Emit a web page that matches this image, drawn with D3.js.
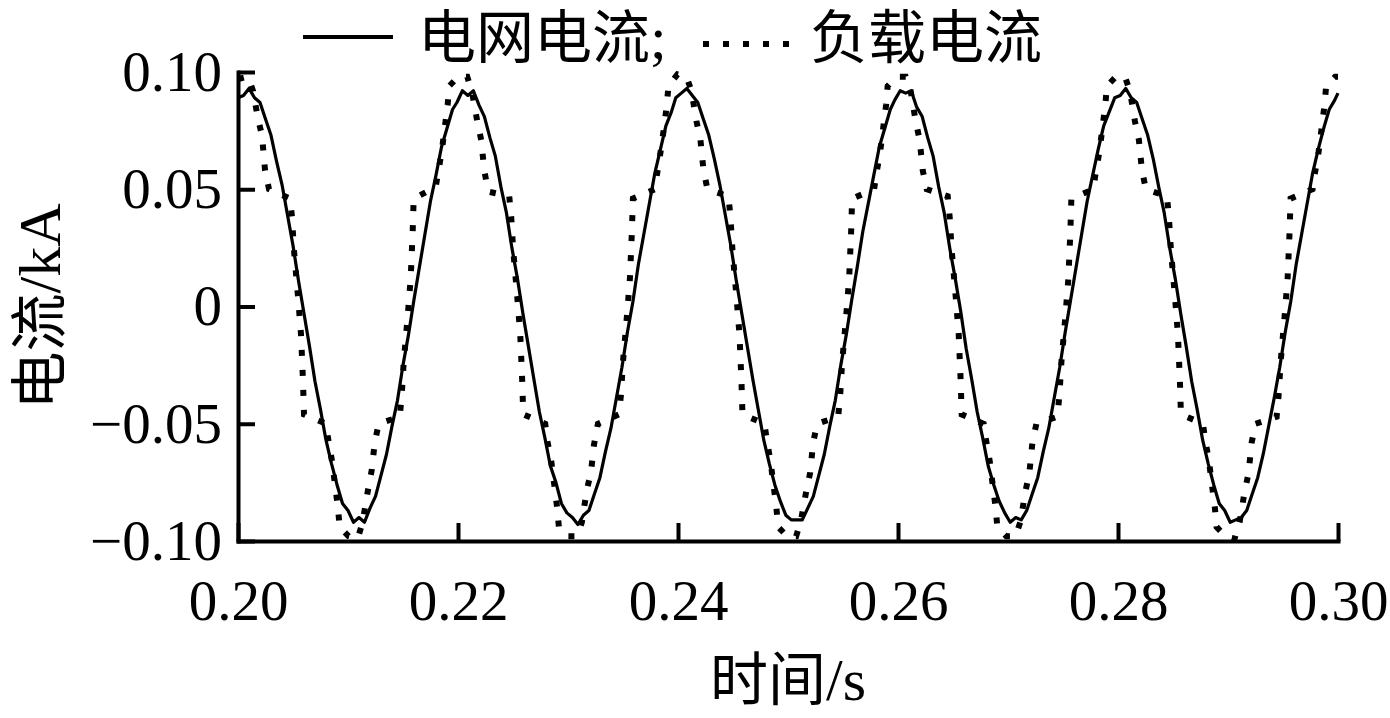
<!DOCTYPE html>
<html>
<head>
<meta charset="utf-8">
<script src="https://cdn.jsdelivr.net/npm/d3@7"></script>
<style>
  body { margin: 0; background: #fff; }
</style>
</head>
<body>
<div class="root"></div>
<script>
const width = 1390;
const height = 718;
const margin = { top: 72, right: 52, bottom: 177, left: 238 };

// tick values and their labels
const xTicks = [0.2, 0.22, 0.24, 0.26, 0.28, 0.3];
const xTickLabels = ["0.20", "0.22", "0.24", "0.26", "0.28", "0.30"];
const yTicks = [-0.1, -0.05, 0, 0.05, 0.1];
const yTickLabels = ["\u22120.10", "\u22120.05", "0", "0.05", "0.10"];

// grid current (solid), every 0.5 ms, one row per cycle
const gridStep = 0.0005;
const gridStart = [0.2, 0.2199, 0.2398, 0.2597, 0.2797];
const gridValues = [
  [0.089, 0.090, 0.093, 0.089, 0.087, 0.080, 0.073, 0.062, 0.052, 0.039, 0.026, 0.011, -0.003, -0.017, -0.032, -0.044, -0.057, -0.067, -0.076, -0.084,
   -0.087, -0.092, -0.090, -0.092, -0.086, -0.081, -0.072, -0.063, -0.051, -0.040, -0.025, -0.012, 0.003, 0.017, 0.031, 0.045, 0.056, 0.068, 0.076, 0.084],
  [0.087, 0.092, 0.090, 0.092, 0.086, 0.081, 0.072, 0.064, 0.051, 0.040, 0.025, 0.012, -0.003, -0.017, -0.031, -0.045, -0.056, -0.068, -0.075, -0.084,
   -0.088, -0.090, -0.093, -0.089, -0.087, -0.080, -0.073, -0.062, -0.052, -0.039, -0.026, -0.011, 0.002, 0.018, 0.031, 0.044, 0.057, 0.067, 0.077, 0.083],
  [0.089, 0.091, 0.093, 0.090, 0.087, 0.080, 0.073, 0.063, 0.052, 0.039, 0.026, 0.011, -0.003, -0.017, -0.031, -0.044, -0.057, -0.067, -0.076, -0.083,
   -0.089, -0.091, -0.091, -0.091, -0.086, -0.081, -0.072, -0.063, -0.051, -0.040, -0.025, -0.012, 0.003, 0.017, 0.032, 0.044, 0.056, 0.068, 0.076, 0.084],
  [0.088, 0.092, 0.091, 0.092, 0.085, 0.081, 0.072, 0.064, 0.051, 0.040, 0.025, 0.012, -0.002, -0.018, -0.031, -0.045, -0.056, -0.068, -0.076, -0.083,
   -0.088, -0.092, -0.090, -0.091, -0.087, -0.080, -0.073, -0.062, -0.052, -0.039, -0.026, -0.011, 0.003, 0.017, 0.031, 0.045, 0.056, 0.067, 0.077, 0.083],
  [0.089, 0.090, 0.093, 0.089, 0.087, 0.080, 0.073, 0.063, 0.051, 0.040, 0.025, 0.012, -0.003, -0.017, -0.032, -0.044, -0.057, -0.067, -0.076, -0.084,
   -0.087, -0.092, -0.091, -0.090, -0.087, -0.080, -0.073, -0.063, -0.051, -0.039, -0.026, -0.011, 0.002, 0.018, 0.031, 0.044, 0.057, 0.067, 0.076, 0.084],
];
const gridTail = [[0.2997, 0.088], [0.3, 0.091]];

// load current (dotted), stepped waveform vertices [time s, current kA]
const loadPoints = [
  [0.2, 0.097], [0.20091, 0.098], [0.20136, 0.092], [0.20182, 0.080], [0.20218, 0.073], [0.20246, 0.058], [0.20282, 0.050], [0.20473, 0.046], [0.20491, 0.038], [0.20509, 0.024], [0.20546, 0.004], [0.20573, -0.012], [0.20591, -0.032], [0.20600, -0.046], [0.20800, -0.050], [0.20818, -0.056], [0.20855, -0.066], [0.20882, -0.076], [0.20909, -0.086],
  [0.20924, -0.094], [0.21006, -0.098], [0.21088, -0.099], [0.21133, -0.092], [0.21179, -0.079], [0.21215, -0.070], [0.21243, -0.058], [0.21279, -0.050], [0.21470, -0.047], [0.21488, -0.038], [0.21506, -0.024], [0.21543, -0.004], [0.21570, 0.012], [0.21588, 0.032], [0.21597, 0.046], [0.21797, 0.051], [0.21815, 0.056], [0.21852, 0.066], [0.21879, 0.076], [0.21906, 0.086],
  [0.21920, 0.094], [0.22002, 0.098], [0.22084, 0.098], [0.22129, 0.091], [0.22175, 0.079], [0.22211, 0.071], [0.22239, 0.058], [0.22275, 0.049], [0.22466, 0.047], [0.22484, 0.038], [0.22502, 0.024], [0.22539, 0.004], [0.22566, -0.012], [0.22584, -0.032], [0.22593, -0.046], [0.22793, -0.050], [0.22811, -0.057], [0.22848, -0.066], [0.22875, -0.076], [0.22902, -0.086],
  [0.22917, -0.094], [0.22999, -0.098], [0.23081, -0.098], [0.23126, -0.092], [0.23172, -0.078], [0.23208, -0.071], [0.23236, -0.059], [0.23272, -0.050], [0.23463, -0.046], [0.23481, -0.038], [0.23499, -0.024], [0.23536, -0.004], [0.23563, 0.012], [0.23581, 0.032], [0.23590, 0.046], [0.23790, 0.050], [0.23808, 0.056], [0.23845, 0.067], [0.23872, 0.076], [0.23899, 0.086],
  [0.23913, 0.094], [0.23995, 0.099], [0.24077, 0.098], [0.24122, 0.092], [0.24168, 0.079], [0.24204, 0.071], [0.24232, 0.058], [0.24268, 0.050], [0.24459, 0.047], [0.24477, 0.038], [0.24495, 0.024], [0.24532, 0.004], [0.24559, -0.012], [0.24577, -0.032], [0.24586, -0.046], [0.24786, -0.050], [0.24804, -0.056], [0.24841, -0.066], [0.24868, -0.076], [0.24895, -0.086],
  [0.24910, -0.094], [0.24992, -0.098], [0.25074, -0.098], [0.25119, -0.091], [0.25165, -0.079], [0.25201, -0.071], [0.25229, -0.058], [0.25265, -0.050], [0.25456, -0.047], [0.25474, -0.038], [0.25492, -0.024], [0.25529, -0.004], [0.25556, 0.012], [0.25574, 0.032], [0.25583, 0.046], [0.25783, 0.050], [0.25801, 0.056], [0.25838, 0.066], [0.25865, 0.076], [0.25892, 0.086],
  [0.25906, 0.094], [0.25988, 0.098], [0.26070, 0.098], [0.26115, 0.092], [0.26161, 0.079], [0.26197, 0.071], [0.26225, 0.058], [0.26261, 0.050], [0.26452, 0.047], [0.26470, 0.038], [0.26488, 0.024], [0.26525, 0.004], [0.26552, -0.012], [0.26570, -0.032], [0.26579, -0.046], [0.26779, -0.050], [0.26797, -0.056], [0.26834, -0.066], [0.26861, -0.076], [0.26888, -0.086],
  [0.26903, -0.094], [0.26985, -0.098], [0.27067, -0.098], [0.27112, -0.092], [0.27158, -0.079], [0.27194, -0.071], [0.27222, -0.058], [0.27258, -0.050], [0.27449, -0.047], [0.27467, -0.038], [0.27485, -0.024], [0.27522, -0.004], [0.27549, 0.012], [0.27567, 0.032], [0.27576, 0.046], [0.27776, 0.050], [0.27794, 0.056], [0.27831, 0.066], [0.27858, 0.076], [0.27885, 0.086],
  [0.27899, 0.094], [0.27981, 0.098], [0.28063, 0.098], [0.28108, 0.092], [0.28154, 0.079], [0.28190, 0.071], [0.28218, 0.058], [0.28254, 0.050], [0.28445, 0.047], [0.28463, 0.038], [0.28481, 0.024], [0.28518, 0.004], [0.28545, -0.012], [0.28563, -0.032], [0.28572, -0.046], [0.28772, -0.050], [0.28790, -0.056], [0.28827, -0.066], [0.28854, -0.076], [0.28881, -0.086],
  [0.28896, -0.094], [0.28978, -0.098], [0.29060, -0.099], [0.29105, -0.092], [0.29151, -0.079], [0.29187, -0.071], [0.29215, -0.058], [0.29251, -0.050], [0.29442, -0.047], [0.29460, -0.038], [0.29478, -0.024], [0.29515, -0.004], [0.29542, 0.012], [0.29560, 0.032], [0.29569, 0.046], [0.29769, 0.050], [0.29787, 0.056], [0.29824, 0.066], [0.29851, 0.076], [0.29878, 0.086],
  [0.29892, 0.094], [0.29974, 0.098], [0.3, 0.098],
];

const serif = "'Liberation Serif', 'Times New Roman', serif";
const cjk = "'Noto Sans CJK SC', sans-serif";

const svg = d3
  .select(".root")
  .append("svg")
  .attr("width", width)
  .attr("height", height)
  .style("display", "block");

const x = d3.scaleLinear().domain([0.2, 0.3]).range([margin.left, width - margin.right]);
const y = d3.scaleLinear().domain([-0.1, 0.1]).range([height - margin.bottom, margin.top]);

// build grid current points from the per-cycle rows
const gridPoints = [];
gridValues.forEach((row, c) => {
  row.forEach((v, k) => gridPoints.push([gridStart[c] + k * gridStep, v]));
});
gridTail.forEach((p) => gridPoints.push(p));

const line = d3
  .line()
  .x((d) => x(d[0]))
  .y((d) => y(d[1]));

svg
  .append("path")
  .datum(loadPoints)
  .attr("d", line)
  .attr("fill", "none")
  .attr("stroke", "#000")
  .attr("stroke-width", 6)
  .attr("stroke-dasharray", "6 14");

svg
  .append("path")
  .datum(gridPoints)
  .attr("d", line)
  .attr("fill", "none")
  .attr("stroke", "#000")
  .attr("stroke-width", 3.2)
  .attr("stroke-linejoin", "round");

// axes, ticks pointing inward
const xAxis = d3
  .axisBottom(x)
  .tickValues(xTicks)
  .tickFormat((d, i) => xTickLabels[i])
  .tickSizeInner(-18)
  .tickSizeOuter(0)
  .tickPadding(39);

const yAxis = d3
  .axisLeft(y)
  .tickValues(yTicks)
  .tickFormat((d, i) => yTickLabels[i])
  .tickSizeInner(-17)
  .tickSizeOuter(0)
  .tickPadding(16);

const gx = svg
  .append("g")
  .attr("transform", `translate(0,${height - margin.bottom})`)
  .call(xAxis);
const gy = svg.append("g").attr("transform", `translate(${margin.left},0)`).call(yAxis);

[gx, gy].forEach((g) => {
  g.select(".domain").attr("stroke-width", 4).attr("stroke-linecap", "square");
  g.selectAll(".tick line").attr("stroke-width", 4);
  g.selectAll(".tick text")
    .attr("fill", "#000")
    .style("font-family", serif)
    .style("font-size", "57px");
});

// axis titles
const xTitle = svg
  .append("text")
  .attr("x", (margin.left + width - margin.right) / 2)
  .attr("y", 700)
  .attr("text-anchor", "middle")
  .style("font-size", "58px");
xTitle.append("tspan").style("font-family", cjk).text("时间");
xTitle.append("tspan").style("font-family", serif).style("font-size", "60px").text("/s");

const yTitle = svg
  .append("text")
  .attr("transform", `translate(60,${(margin.top + height - margin.bottom) / 2}) rotate(-90)`)
  .attr("text-anchor", "middle")
  .style("font-size", "58px");
yTitle.append("tspan").style("font-family", cjk).text("电流");
yTitle.append("tspan").style("font-family", serif).style("font-size", "60px").text("/kA");

// legend
const legend = svg.append("g");
legend
  .append("line")
  .attr("x1", 303)
  .attr("x2", 393)
  .attr("y1", 37)
  .attr("y2", 37)
  .attr("stroke", "#000")
  .attr("stroke-width", 4);
const t1 = legend
  .append("text")
  .attr("x", 418)
  .attr("y", 58)
  .style("font-size", "58px");
t1.append("tspan").style("font-family", cjk).text("电网电流");
t1.append("tspan").style("font-family", serif).style("font-size", "60px").text(";");
legend
  .append("line")
  .attr("x1", 703)
  .attr("x2", 795)
  .attr("y1", 44)
  .attr("y2", 44)
  .attr("stroke", "#000")
  .attr("stroke-width", 6)
  .attr("stroke-dasharray", "6 14");
legend
  .append("text")
  .attr("x", 810)
  .attr("y", 58)
  .style("font-family", cjk)
  .style("font-size", "58px")
  .text("负载电流");
</script>
</body>
</html>
